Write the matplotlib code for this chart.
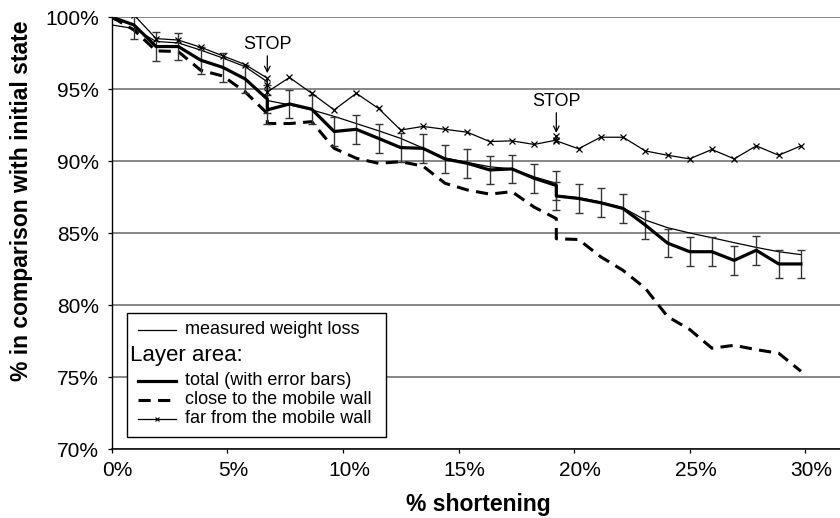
import matplotlib.pyplot as plt
import matplotlib.transforms as mtransforms
from matplotlib.lines import Line2D
from matplotlib.patches import Rectangle
from matplotlib.ticker import FuncFormatter

plt.rcParams["font.family"] = ["Liberation Sans", "DejaVu Sans"]

W, H = 840, 518

# shortening steps; the two STOP positions appear twice (before / after the stop)
shortening = [0.00, 0.96, 1.92, 2.88, 3.85, 4.81, 5.77, 6.73, 6.73, 7.69, 8.65, 9.62,
              10.58, 11.54, 12.50, 13.46, 14.42, 15.38, 16.35, 17.31, 18.27, 19.23, 19.23,
              20.19, 21.15, 22.12, 23.08, 24.04, 25.00, 25.96, 26.92, 27.88, 28.85, 29.81]

measured = [99.45, 99.2, 98.3, 98.2, 97.7, 97.15, 96.55, 95.5, 94.2, 93.9, 93.55, 93.1,
            92.6, 92.1, 91.57, 90.9, 90.2, 89.9, 89.6, 89.45, 88.9, 88.45, 87.6,
            87.45, 87.15, 86.75, 85.9, 85.37, 85.0, 84.67, 84.33, 84.0, 83.7, 83.5]

total = [100, 99.45, 97.95, 97.95, 97.0, 96.5, 95.7, 94.3, 93.55, 93.96, 93.6, 92.05,
         92.2, 91.57, 90.93, 90.88, 90.14, 89.84, 89.38, 89.45, 88.8, 88.3, 87.57,
         87.4, 87.1, 86.7, 85.55, 84.3, 83.7, 83.7, 83.1, 83.8, 82.85, 82.85]

total_err = [0, 0.95, 1.0, 0.95, 0.95, 1.0, 0.95, 1.0, 1.0, 1.0, 1.0, 1.0,
             1.0, 1.0, 1.0, 1.0, 1.0, 1.0, 1.0, 1.0, 1.0, 1.0, 1.0,
             1.0, 1.0, 1.0, 1.0, 1.0, 1.0, 1.0, 1.0, 1.0, 1.0, 1.0]

close_wall = [100, 99.1, 97.65, 97.6, 96.3, 95.9, 94.8, 93.3, 92.6, 92.6, 92.73, 90.88,
              90.19, 89.84, 89.95, 89.65, 88.45, 87.99, 87.7, 87.87, 86.8, 86.0, 84.6,
              84.55, 83.35, 82.4, 81.16, 79.2, 78.3, 77.0, 77.2, 76.9, 76.65, 75.4]

far_x = [0.00, 0.96, 1.92, 2.88, 3.85, 4.81, 5.77, 6.73, 6.73, 6.73, 7.69, 8.65, 9.62,
         10.58, 11.54, 12.50, 13.46, 14.42, 15.38, 16.35, 17.31, 18.27, 19.23, 19.23, 19.23,
         20.19, 21.15, 22.12, 23.08, 24.04, 25.00, 25.96, 26.92, 27.88, 28.85, 29.81]
far_wall = [100, 100.15, 98.5, 98.4, 97.9, 97.3, 96.7, 95.75, 95.25, 94.8, 95.8, 94.7, 93.55,
            94.7, 93.65, 92.15, 92.4, 92.2, 92.0, 91.35, 91.4, 91.15, 91.45, 91.75, 91.4,
            90.85, 91.65, 91.65, 90.7, 90.4, 90.15, 90.8, 90.15, 91.05, 90.4, 91.05]

stop_x = [6.73, 19.23]
stop_text_y = [98.1, 94.1]
stop_arrow = [(97.3, 96.1), (93.35, 91.95)]

x_ticks = [0, 5, 10, 15, 20, 25, 30]
y_ticks = [70, 75, 80, 85, 90, 95, 100]


def fig_xy(px, py):
    return px / W, 1 - py / H


fig = plt.figure(figsize=(W / 100, H / 100), dpi=100)
ax = fig.add_axes([111.7 / W, 1 - 449 / H, (W - 111.7) / W, (449 - 17) / H])

ax.plot(shortening, measured, color="black", lw=0.9, zorder=3)
ax.plot(shortening, close_wall, color="black", lw=2.2, dashes=(4, 2.4), zorder=3)
ax.plot(far_x, far_wall, color="black", lw=0.9, marker="x", ms=4.8, mew=0.9, zorder=4)
ax.errorbar(shortening, total, yerr=total_err, fmt="none", ecolor="#353535",
            elinewidth=1.0, capsize=2.6, capthick=1.0, zorder=3)
ax.plot(shortening, total, color="black", lw=2.3, zorder=4)

for sx, ty, (a0, a1) in zip(stop_x, stop_text_y, stop_arrow):
    ax.text(sx, ty, "STOP", ha="center", va="center", fontsize=13)
    ax.annotate("", xy=(sx, a1), xytext=(sx, a0),
                arrowprops=dict(arrowstyle="->", color="black", lw=0.9, shrinkA=0, shrinkB=0))

ax.set_xlim(0, 31.5)
ax.set_ylim(70, 100)
ax.set_xticks(x_ticks)
ax.set_yticks(y_ticks)
pct = FuncFormatter(lambda v, p: f"{v:.0f}%")
ax.xaxis.set_major_formatter(pct)
ax.yaxis.set_major_formatter(pct)
ax.tick_params(axis="both", labelsize=15, direction="out", length=3, width=0.9, colors="black")
ax.tick_params(axis="x", pad=6)
ax.tick_params(axis="y", pad=6)
shift = mtransforms.ScaledTranslation(6 / 100, 0, fig.dpi_scale_trans)
for lab in ax.get_xticklabels():
    lab.set_transform(lab.get_transform() + shift)

ax.grid(axis="y", color="#666666", lw=1.1)
ax.set_axisbelow(True)
for side in ("top", "right"):
    ax.spines[side].set_visible(False)
ax.spines["left"].set_linewidth(1.0)
ax.spines["bottom"].set_linewidth(1.1)

fig.text(*fig_xy(22, 201), "% in comparison with initial state", rotation=90,
         ha="center", va="center", fontsize=16.5, fontweight="bold")
fig.text(*fig_xy(478, 505), "% shortening", ha="center", va="center",
         fontsize=16.5, fontweight="bold")

# legend box drawn by hand to keep the "Layer area:" header
x0, y0 = fig_xy(127, 437)
x1, y1 = fig_xy(386, 313)
fig.add_artist(Rectangle((x0, y0), x1 - x0, y1 - y0, transform=fig.transFigure,
                         facecolor="white", edgecolor="black", lw=1.0, zorder=5))

h0, h1, tx = 138, 176, 185
rows = [
    (329.5, "measured weight loss", dict(lw=0.9)),
    (380.5, "total (with error bars)", dict(lw=2.3)),
    (399.5, "close to the mobile wall", dict(lw=2.2, dashes=(4, 2.4))),
    (418.5, "far from the mobile wall", dict(lw=0.9, marker="x", ms=3.5, mew=0.8, markevery=[1])),
]
for py, label, style in rows:
    xa, ya = fig_xy(h0, py)
    xm, _ = fig_xy((h0 + h1) / 2, py)
    xb, _ = fig_xy(h1, py)
    fig.add_artist(Line2D([xa, xm, xb], [ya, ya, ya], color="black",
                          transform=fig.transFigure, zorder=6, **style))
    fig.text(*fig_xy(tx, py), label, ha="left", va="center", fontsize=13, zorder=6)
fig.text(*fig_xy(129.5, 355), "Layer area:", ha="left", va="center", fontsize=16, zorder=6)

fig.savefig("out.png", dpi=100)
